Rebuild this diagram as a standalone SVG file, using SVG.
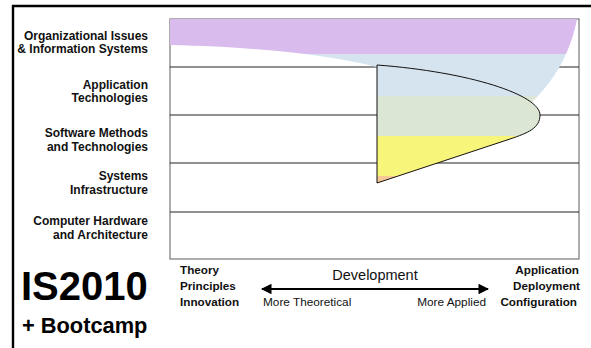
<svg xmlns="http://www.w3.org/2000/svg" width="591" height="348" viewBox="0 0 591 348">
<style>
.lbl{font-family:"Liberation Sans",Arial,sans-serif;font-weight:bold;font-size:11.7px;fill:#111}
.row{font-size:12px}
.r{text-anchor:end}
.n{font-family:"Liberation Sans",Arial,sans-serif;font-size:11.8px;fill:#111}
.grid{stroke:#222;stroke-width:1.2}
</style>
<defs>
<clipPath id="shape">
<path d="M170,19 L577,19 C572,45 560,75 532,102 L377,102 L377,67 C330,55 260,47 170,45 Z"/>
<path d="M377,65 C470,72 540,95 540,115 C540,128 528,133 510,139 L377,183 Z"/>
</clipPath>
<marker id="ah" viewBox="0 0 10 10" refX="9" refY="5" markerWidth="5" markerHeight="4.8" orient="auto-start-reverse">
<path d="M0,0 L10,5 L0,10 Z" fill="#000"/>
</marker>
</defs>
<g id="frame">
<path d="M13,348 L13,6 L591,6" fill="none" stroke="#000" stroke-width="2.4"/>
</g>
<g id="chart">
<rect x="170" y="19" width="409" height="240" fill="#fff" stroke="#777" stroke-width="1.2"/>
<g id="gridlines">
<line class="grid" x1="170" y1="67" x2="579" y2="67"/>
<line class="grid" x1="170" y1="115" x2="579" y2="115"/>
<line class="grid" x1="170" y1="163" x2="579" y2="163"/>
<line class="grid" x1="170" y1="212" x2="579" y2="212"/>
</g>
<g id="bands" clip-path="url(#shape)">
<rect x="170" y="19" width="409" height="35" fill="#d9bbee"/>
<rect x="170" y="54" width="409" height="42" fill="#d6e4ef"/>
<rect x="170" y="96" width="409" height="40" fill="#dbe6d4"/>
<rect x="170" y="136" width="409" height="40" fill="#f7f57a"/>
<rect x="170" y="176" width="409" height="10" fill="#f6c996"/>
</g>
<path id="lens" d="M377,65 C470,72 540,95 540,115 C540,128 528,133 510,139 L377,183 Z" fill="none" stroke="#111" stroke-width="1"/>
</g>
<g id="row-labels">
<text class="lbl row r" x="148" y="40">Organizational Issues</text>
<text class="lbl row r" x="148" y="53">&amp; Information Systems</text>
<text class="lbl row r" x="148" y="89">Application</text>
<text class="lbl row r" x="148" y="102">Technologies</text>
<text class="lbl row r" x="148" y="137">Software Methods</text>
<text class="lbl row r" x="148" y="151">and Technologies</text>
<text class="lbl row r" x="148" y="180">Systems</text>
<text class="lbl row r" x="148" y="194">Infrastructure</text>
<text class="lbl row r" x="148" y="225">Computer Hardware</text>
<text class="lbl row r" x="148" y="239">and Architecture</text>
</g>
<g id="title">
<text x="21" y="300" font-family="Liberation Sans,Arial,sans-serif" font-weight="bold" font-size="40" fill="#000">IS2010</text>
<text x="22" y="333" font-family="Liberation Sans,Arial,sans-serif" font-weight="bold" font-size="21.8" fill="#000">+ Bootcamp</text>
</g>
<g id="axis-left">
<text class="lbl" x="180" y="274">Theory</text>
<text class="lbl" x="180" y="290">Principles</text>
<text class="lbl" x="180" y="306">Innovation</text>
</g>
<g id="axis-right">
<text class="lbl r" x="579" y="274">Application</text>
<text class="lbl r" x="580" y="290">Deployment</text>
<text class="lbl r" x="577" y="306">Configuration</text>
</g>
<g id="connectors">
<line x1="262" y1="289" x2="488" y2="289" stroke="#000" stroke-width="2.2" marker-start="url(#ah)" marker-end="url(#ah)"/>
</g>
<g id="axis-mid">
<text x="375" y="280" text-anchor="middle" font-family="Liberation Sans,Arial,sans-serif" font-size="14.5" fill="#111">Development</text>
<text class="n" x="263" y="306">More Theoretical</text>
<text class="n r" x="486" y="306">More Applied</text>
</g>
</svg>
